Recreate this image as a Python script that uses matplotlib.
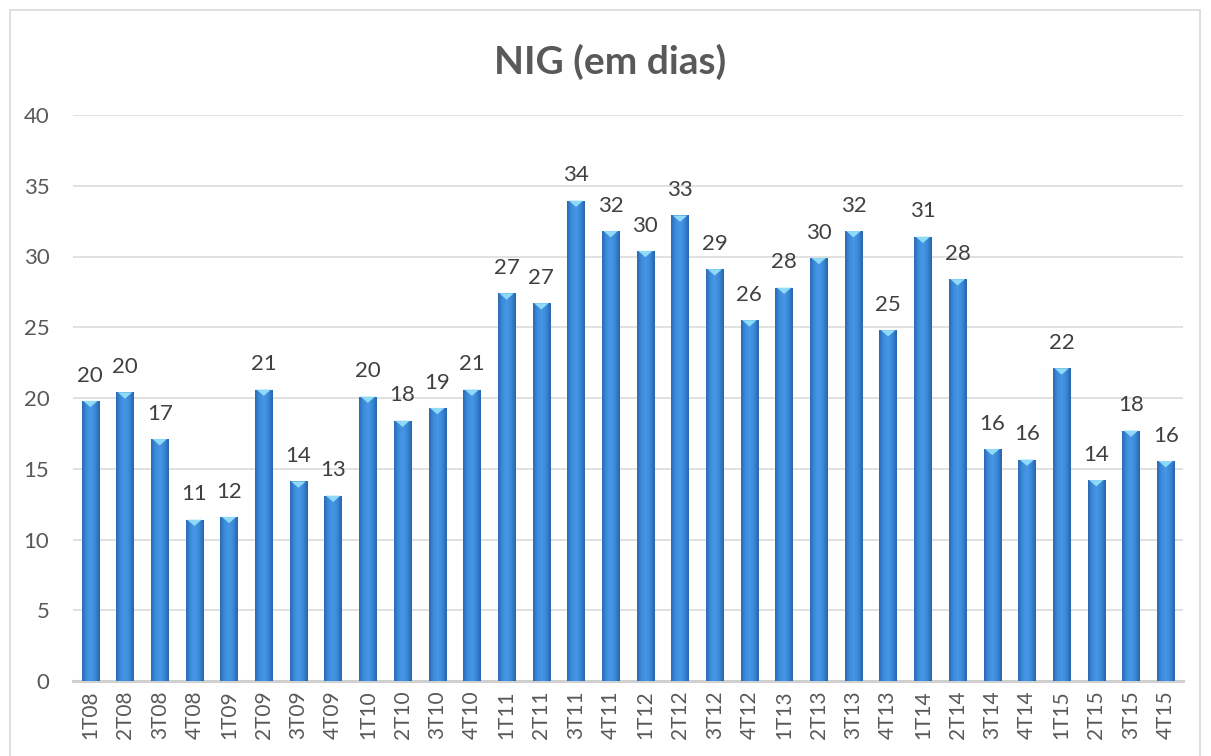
import numpy as np
import matplotlib
matplotlib.use("Agg")
import matplotlib.pyplot as plt
from matplotlib.patches import Rectangle, Polygon
from matplotlib.colors import LinearSegmentedColormap

categories = ["1T08", "2T08", "3T08", "4T08", "1T09", "2T09", "3T09", "4T09",
              "1T10", "2T10", "3T10", "4T10", "1T11", "2T11", "3T11", "4T11",
              "1T12", "2T12", "3T12", "4T12", "1T13", "2T13", "3T13", "4T13",
              "1T14", "2T14", "3T14", "4T14", "1T15", "2T15", "3T15", "4T15"]
values = [19.8, 20.4, 17.1, 11.4, 11.6, 20.6, 14.1, 13.1,
          20.1, 18.4, 19.3, 20.6, 27.4, 26.7, 33.95, 31.8,
          30.4, 32.9, 29.1, 25.5, 27.8, 29.9, 31.8, 24.8,
          31.4, 28.4, 16.4, 15.65, 22.1, 14.2, 17.7, 15.55]
title = "NIG (em dias)"
yticks = [0, 5, 10, 15, 20, 25, 30, 35, 40]

plt.rcParams['font.family'] = ['Lato', 'DejaVu Sans']

fig = plt.figure(figsize=(12.11, 7.56), dpi=100)
# outer chart border
fig.patches.append(Rectangle((10/1211, -0.01), 1190/1211, 1 - 10/756 + 0.01,
                             transform=fig.transFigure, fill=False,
                             edgecolor="#d9d9d9", linewidth=1.2))

ax = fig.add_axes([73/1211, 1 - 681/756, 1110/1211, 566/756])
x = np.arange(len(categories))
width = 0.5
bars = ax.bar(x, values, width=width, color="#3a87d7", zorder=3)

cmap = LinearSegmentedColormap.from_list(
    "cyl", ["#2a6ab4", "#3d8cdc", "#4797e4", "#3a88d8", "#2864ab"])
grad = np.linspace(0, 1, 64).reshape(1, -1)
for b, v, xi in zip(bars, values, x):
    im = ax.imshow(grad, cmap=cmap, aspect="auto",
                   extent=(xi - width/2, xi + width/2, 0, v), zorder=3.5)
    im.set_clip_path(b)
    tri = Polygon([(xi - width*0.42, v), (xi + width*0.42, v), (xi, v - 0.45)],
                  closed=True, facecolor="#8edaf8", edgecolor="none", zorder=4)
    ax.add_patch(tri)
    label = str(int(np.floor(v + 0.5)))
    ax.annotate(label, (xi, v), xytext=(0, 11), textcoords="offset points",
                ha="center", va="bottom", fontsize=16, color="#404040")

ax.set_xlim(-0.5, len(categories) - 0.5)
ax.set_ylim(0, 40)
ax.set_yticks(yticks)
ax.set_yticklabels([str(t) for t in yticks])
ax.set_xticks(x)
ax.set_xticklabels(categories, rotation=90)
ax.tick_params(axis="y", length=0, labelsize=16, labelcolor="#595959", pad=17)
ax.tick_params(axis="x", length=0, labelsize=15, labelcolor="#595959", pad=7)
ax.grid(axis="y", color="#d9d9d9", linewidth=1.1, zorder=0)
for s in ["top", "right", "left"]:
    ax.spines[s].set_visible(False)
ax.spines["bottom"].set_color("#d0d0d0")
ax.spines["bottom"].set_linewidth(2.2)
ax.set_facecolor("white")

fig.text(610/1211, 1 - 62/756, title, ha="center", va="center",
         fontsize=28, fontweight="bold", color="#595959")

fig.savefig("out.png", dpi=100)
